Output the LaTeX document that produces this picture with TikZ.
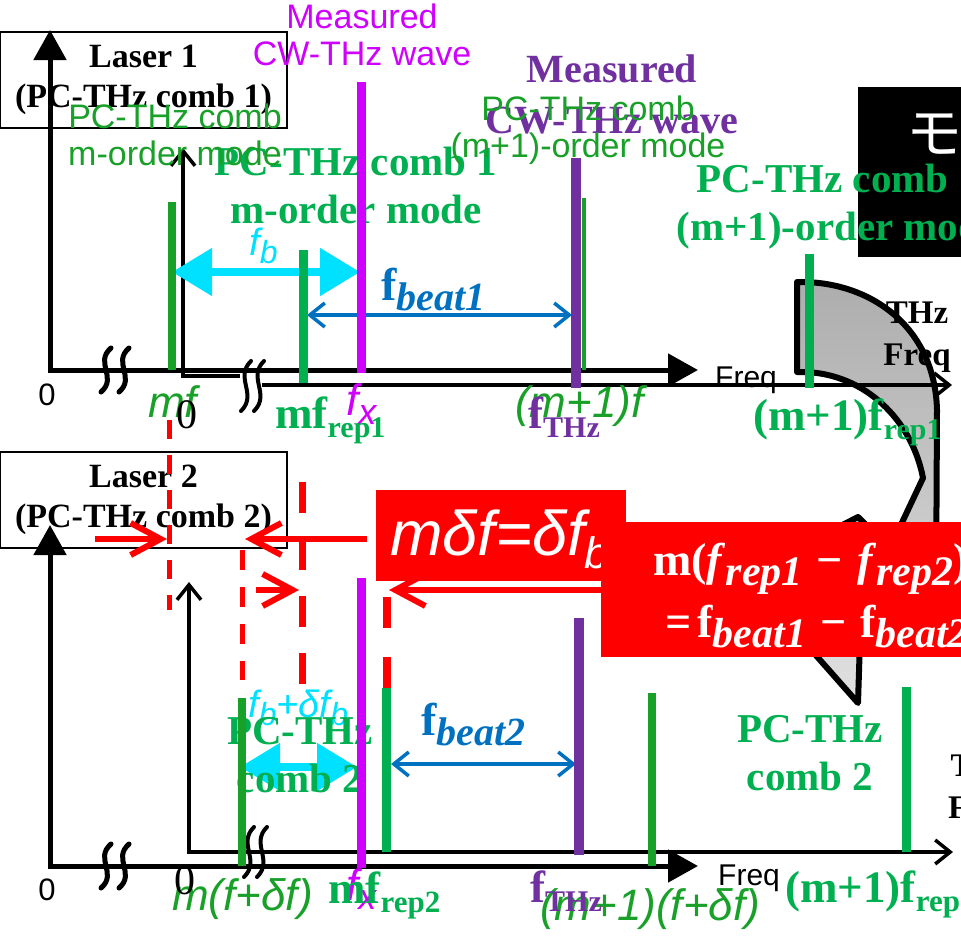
\documentclass[tikz,border=0pt]{standalone}
\usepackage{fontspec}
\setmainfont{Liberation Serif}
\setsansfont{Liberation Sans}
\newfontfamily\cjkfont{Noto Sans CJK JP}
\usetikzlibrary{arrows.meta,positioning,calc}
\definecolor{CombGreen}{RGB}{0,176,80}
\definecolor{ModeGreen}{RGB}{24,160,40}
\definecolor{CwMagenta}{RGB}{208,0,255}
\definecolor{ThzPurple}{RGB}{112,48,160}
\definecolor{BeatCyan}{RGB}{0,224,255}
\definecolor{BeatBlue}{RGB}{0,112,192}
\newcommand{\lsub}[2][30]{\raisebox{-0.22em}{\fontsize{#1}{#1}\selectfont #2}}
\newcommand{\eqminus}{\hspace{14pt}−\hspace{14pt}}
\newcommand{\axisbreak}[5]{%
  \draw[line width=#5,line cap=round] (#1+5,#2-#3) .. controls (#1-12,#2-#3/3) and (#1+12,#2+#3/3) .. (#1-5,#2+#3);
  \draw[line width=#5,line cap=round] (#1+#4+5,#2-#3) .. controls (#1+#4-12,#2-#3/3) and (#1+#4+12,#2+#3/3) .. (#1+#4-5,#2+#3);}
\tikzset{
  >={Straight Barb[length=15pt,width=24pt]},
  axisA/.style={line width=5pt,line join=miter,{Triangle[length=30pt,width=32pt]}-{Triangle[length=30pt,width=32pt]}},
  axisB/.style={line width=3.5pt},
  modeA/.style={ModeGreen,line width=8pt},
  thinA/.style={ModeGreen,line width=4pt},
  modeB/.style={CombGreen,line width=9pt},
  cwline/.style={CwMagenta,line width=9pt},
  thzline/.style={ThzPurple,line width=10pt},
  fbarrow/.style={BeatCyan,line width=8pt,{Triangle[length=40pt,width=46pt]}-{Triangle[length=40pt,width=46pt]}},
  beatarrow/.style={BeatBlue,line width=3.5pt,<->},
  reddash/.style={red,line width=5pt,dash pattern=on 19pt off 16pt},
  redmark/.style={red,line width=6pt,-{Straight Barb[length=30pt,width=32pt]}},
  turnarrow/.style={draw=black,line width=6pt,line join=round,top color=black!32,bottom color=black!12},
  laserbox/.style={draw,line width=1.5pt,minimum width=287pt,minimum height=96pt,align=center,
    font=\fontsize{34}{40}\selectfont\bfseries},
  capB/.style={CombGreen,font=\fontsize{41}{48}\selectfont\bfseries,align=center,inner sep=0pt,anchor=base},
  capA/.style={ModeGreen,font=\fontsize{34}{37}\selectfont\sffamily,align=center,inner sep=0pt,anchor=base},
  cwA/.style={CwMagenta,font=\fontsize{34}{37}\selectfont\sffamily,align=center,inner sep=0pt,anchor=base},
  cwB/.style={ThzPurple,font=\fontsize{40}{51}\selectfont\bfseries,align=center,inner sep=0pt,anchor=base},
  thzfreq/.style={font=\fontsize{33}{42}\selectfont\bfseries,align=center,inner sep=0pt},
  labA/.style={font=\fontsize{44}{48}\selectfont\sffamily\itshape,inner sep=0pt,anchor=base west},
  labB/.style={font=\fontsize{45}{48}\selectfont\bfseries,inner sep=0pt,anchor=base west},
  fblab/.style={BeatCyan,font=\fontsize{38}{40}\selectfont\sffamily\itshape,inner sep=0pt,anchor=base west},
  beatlab/.style={BeatBlue,font=\fontsize{46}{50}\selectfont\bfseries,inner sep=0pt,anchor=base west},
  zeroA/.style={font=\fontsize{31}{34}\selectfont\sffamily,inner sep=0pt},
  zeroB/.style={font=\fontsize{42}{46}\selectfont,inner sep=0pt},
  freqA/.style={font=\fontsize{30}{34}\selectfont\sffamily,inner sep=0pt,anchor=base west},
  eqtext/.style={white,font=\fontsize{46}{50}\selectfont\bfseries,inner sep=0pt,anchor=base west}
}

\begin{document}
\begin{tikzpicture}[x=1pt,y=-1pt]
  \useasboundingbox (0,0) rectangle (961,937);
  \clip (0,0) rectangle (961,937);

  % black label, cut at the right edge
  \fill[black] (858,87) rectangle (975,257);
  \node[white,font=\cjkfont\fontsize{56}{56}\selectfont,inner sep=0pt,anchor=base west] (moji) at (906,153) {モ};

  % grey turning arrow
  \draw[turnarrow] (797,372) -- (797,282) -- (805,282)
    .. controls (875,284) and (935,330) .. (937,410) -- (936,600) -- (860,640) -- (858,703)
    -- (745,575) -- (858,517) -- (890,548) -- (923,478)
    .. controls (912,420) and (865,374) .. (805,372) -- cycle;

  \node[laserbox] (laserone) at (143.5,80) {Laser 1\\(PC-THz comb 1)};
  \node[laserbox] (lasertwo) at (143.5,500) {Laser 2\\(PC-THz comb 2)};

  % axes, comb 1
  \draw[axisA] (50,30) -- (50,370) -- (698,370);
  \axisbreak{106}{370}{22}{18}{5pt}
  \draw[axisB,<-] (183,148) -- (183,376) -- (240,376);
  \draw[axisB,->] (262,385) -- (952,385);
  \axisbreak{246}{386}{25}{13}{4pt}

  % axes, comb 2
  \draw[axisA] (50,525) -- (50,866) -- (698,866);
  \axisbreak{106}{866}{22}{18}{5pt}
  \draw[axisB,<->] (189,582) -- (189,852) -- (953,852);
  \axisbreak{249}{852}{25}{13}{4pt}

  % beat arrows
  \coordinate (fbl) at (172,272);
  \coordinate (fbr) at (360,272);
  \draw[fbarrow] (fbl) -- (fbr);
  \node[fblab] (fb) at (249,255) {f\lsub[32]{b}};
  \coordinate (beatl) at (307,315);
  \coordinate (beatr) at (572,315);
  \draw[beatarrow] (beatl) -- (beatr);
  \node[beatlab] (beatone) at (381,300) {f\lsub[40]{\itshape beat1}};

  \coordinate (fbdl) at (240,767);
  \coordinate (fbdr) at (357,767);
  \draw[fbarrow] (fbdl) -- (fbdr);
  \node[fblab] (fbd) at (248,717) {f\lsub[32]{b}+δf\lsub[32]{b}};
  \coordinate (beatdl) at (391,764);
  \coordinate (beatdr) at (576,764);
  \draw[beatarrow] (beatdl) -- (beatdr);
  \node[beatlab] (beattwo) at (421,735) {f\lsub[40]{\itshape beat2}};

  % captions (anchored at the baseline of their last line)
  \node[capB] (combm) at (356,223) {PC-THz comb 1\\m-order mode};
  \node[capB] (combmone) at (838,240) {PC-THz comb 1\\(m+1)-order mode};
  \node[cwB] (cwtwo) at (612,133) {Measured\\CW-THz wave};
  \node[capA] (modem) at (175,165) {PC-THz comb\\m-order mode};
  \node[capA] (modemone) at (588,157) {PC-THz comb\\(m+1)-order mode};
  \node[cwA] (cwone) at (362,65) {Measured\\CW-THz wave};
  \node[capB] (combtwoa) at (300,792) {PC-THz\\comb 2};
  \node[capB] (combtwob) at (810,790) {PC-THz\\comb 2};

  % spectral lines, comb 1
  \draw[modeA] (172,202) -- (172,370);
  \draw[modeB] (303,250) -- (303,383);
  \draw[cwline] (361,82) -- (361,373);
  \draw[thzline] (576,158) -- (576,388);
  \draw[thinA] (583.5,198) -- (583.5,370);
  \draw[modeB] (809,254) -- (809,388);

  % spectral lines, comb 2
  \draw[modeA] (242,698) -- (242,866);
  \draw[cwline] (361,578) -- (361,868);
  \draw[modeB] (386,688) -- (386,852);
  \draw[thzline] (579,618) -- (579,855);
  \draw[modeA] (652,693) -- (652,866);
  \draw[modeB] (906,687) -- (906,852);

  % axis labels
  \node[zeroA] (zeroa) at (47,395) {0};
  \node[zeroA] (zeroc) at (47,890) {0};
  \node[freqA] (freqa) at (715,387) {Freq};
  \node[freqA] (freqb) at (718,885) {Freq};
  \node[labA,ModeGreen] (lmf) at (148,417) {mf};
  \node[labA,ModeGreen] (lmfone) at (515,417) {(m+1)f};
  \node[labA,CwMagenta] (lfx) at (346,415) {f\lsub[36]{x}};
  \node[labA,ModeGreen] (lmdf) at (172,910) {m(f+δf)};
  \node[labA,ModeGreen] (lmdfone) at (540,920) {(m+1)(f+δf)};
  \node[labA,CwMagenta] (lfxtwo) at (346,900) {f\lsub[36]{x}};
  \node[zeroB] (zerob) at (187,415) {0};
  \node[zeroB] (zerod) at (185,881) {0};
  \node[labB,CombGreen] (lrepone) at (275,428) {mf\lsub{rep1}};
  \node[labB,ThzPurple] (lthz) at (528,428) {f\lsub{THz}};
  \node[labB,CombGreen] (lrepm) at (753,430) {(m+1)f\lsub{rep1}};
  \node[labB,CombGreen] (lreptwo) at (328,903) {mf\lsub[31]{rep2}};
  \node[labB,ThzPurple] (lthztwo) at (530,902) {f\lsub{THz}};
  \node[labB,CombGreen] (lrepmtwo) at (785,902) {(m+1)f\lsub[31]{rep2}};
  \node[thzfreq,anchor=base] (thzone) at (917,365) {THz\\Freq};
  \node[thzfreq,anchor=base west] (thztwo) at (948,818) {THz\\Freq};

  % offsets between the two combs
  \draw[reddash] (169,420) -- (169,610);
  \draw[reddash,dash pattern=on 20pt off 17pt] (242,550) -- (242,680);
  \draw[reddash,line width=7pt,dash pattern=on 31pt off 26pt] (302,482) -- (302,688);
  \draw[reddash,line width=8pt,dash pattern=on 31pt off 29pt] (387,597) -- (387,688);
  \coordinate (dfa) at (95,539);
  \coordinate (dfb) at (167,539);
  \coordinate (dfc) at (367,539);
  \coordinate (dfd) at (245,539);
  \coordinate (dfe) at (256,590);
  \coordinate (dff) at (299,590);
  \coordinate (dfg) at (640,590);
  \coordinate (dfh) at (389,590);
  \draw[redmark] (dfa) -- (dfb);
  \draw[redmark] (dfc) -- (dfd);
  \draw[redmark] (dfe) -- (dff);
  \draw[redmark] (dfg) -- (dfh);
  \fill[red] (376,490) rectangle (626,581);
  \node[white,font=\fontsize{63}{63}\selectfont\sffamily\itshape,inner sep=0pt,anchor=base west] (mdf) at (390,555) {mδf=δf\lsub[44]{b}};
  \fill[red] (601,522) rectangle (975,657);
  \node[eqtext] (eqone) at (653,575) {m(\textit{f}\lsub[42]{\itshape rep1}\eqminus\textit{f}\lsub[42]{\itshape rep2})};
  \node[eqtext] (eqtwo) at (665,637) {=\hspace{6pt}f\lsub[42]{\itshape beat1}\eqminus f\lsub[42]{\itshape beat2}};
\end{tikzpicture}
\end{document}
